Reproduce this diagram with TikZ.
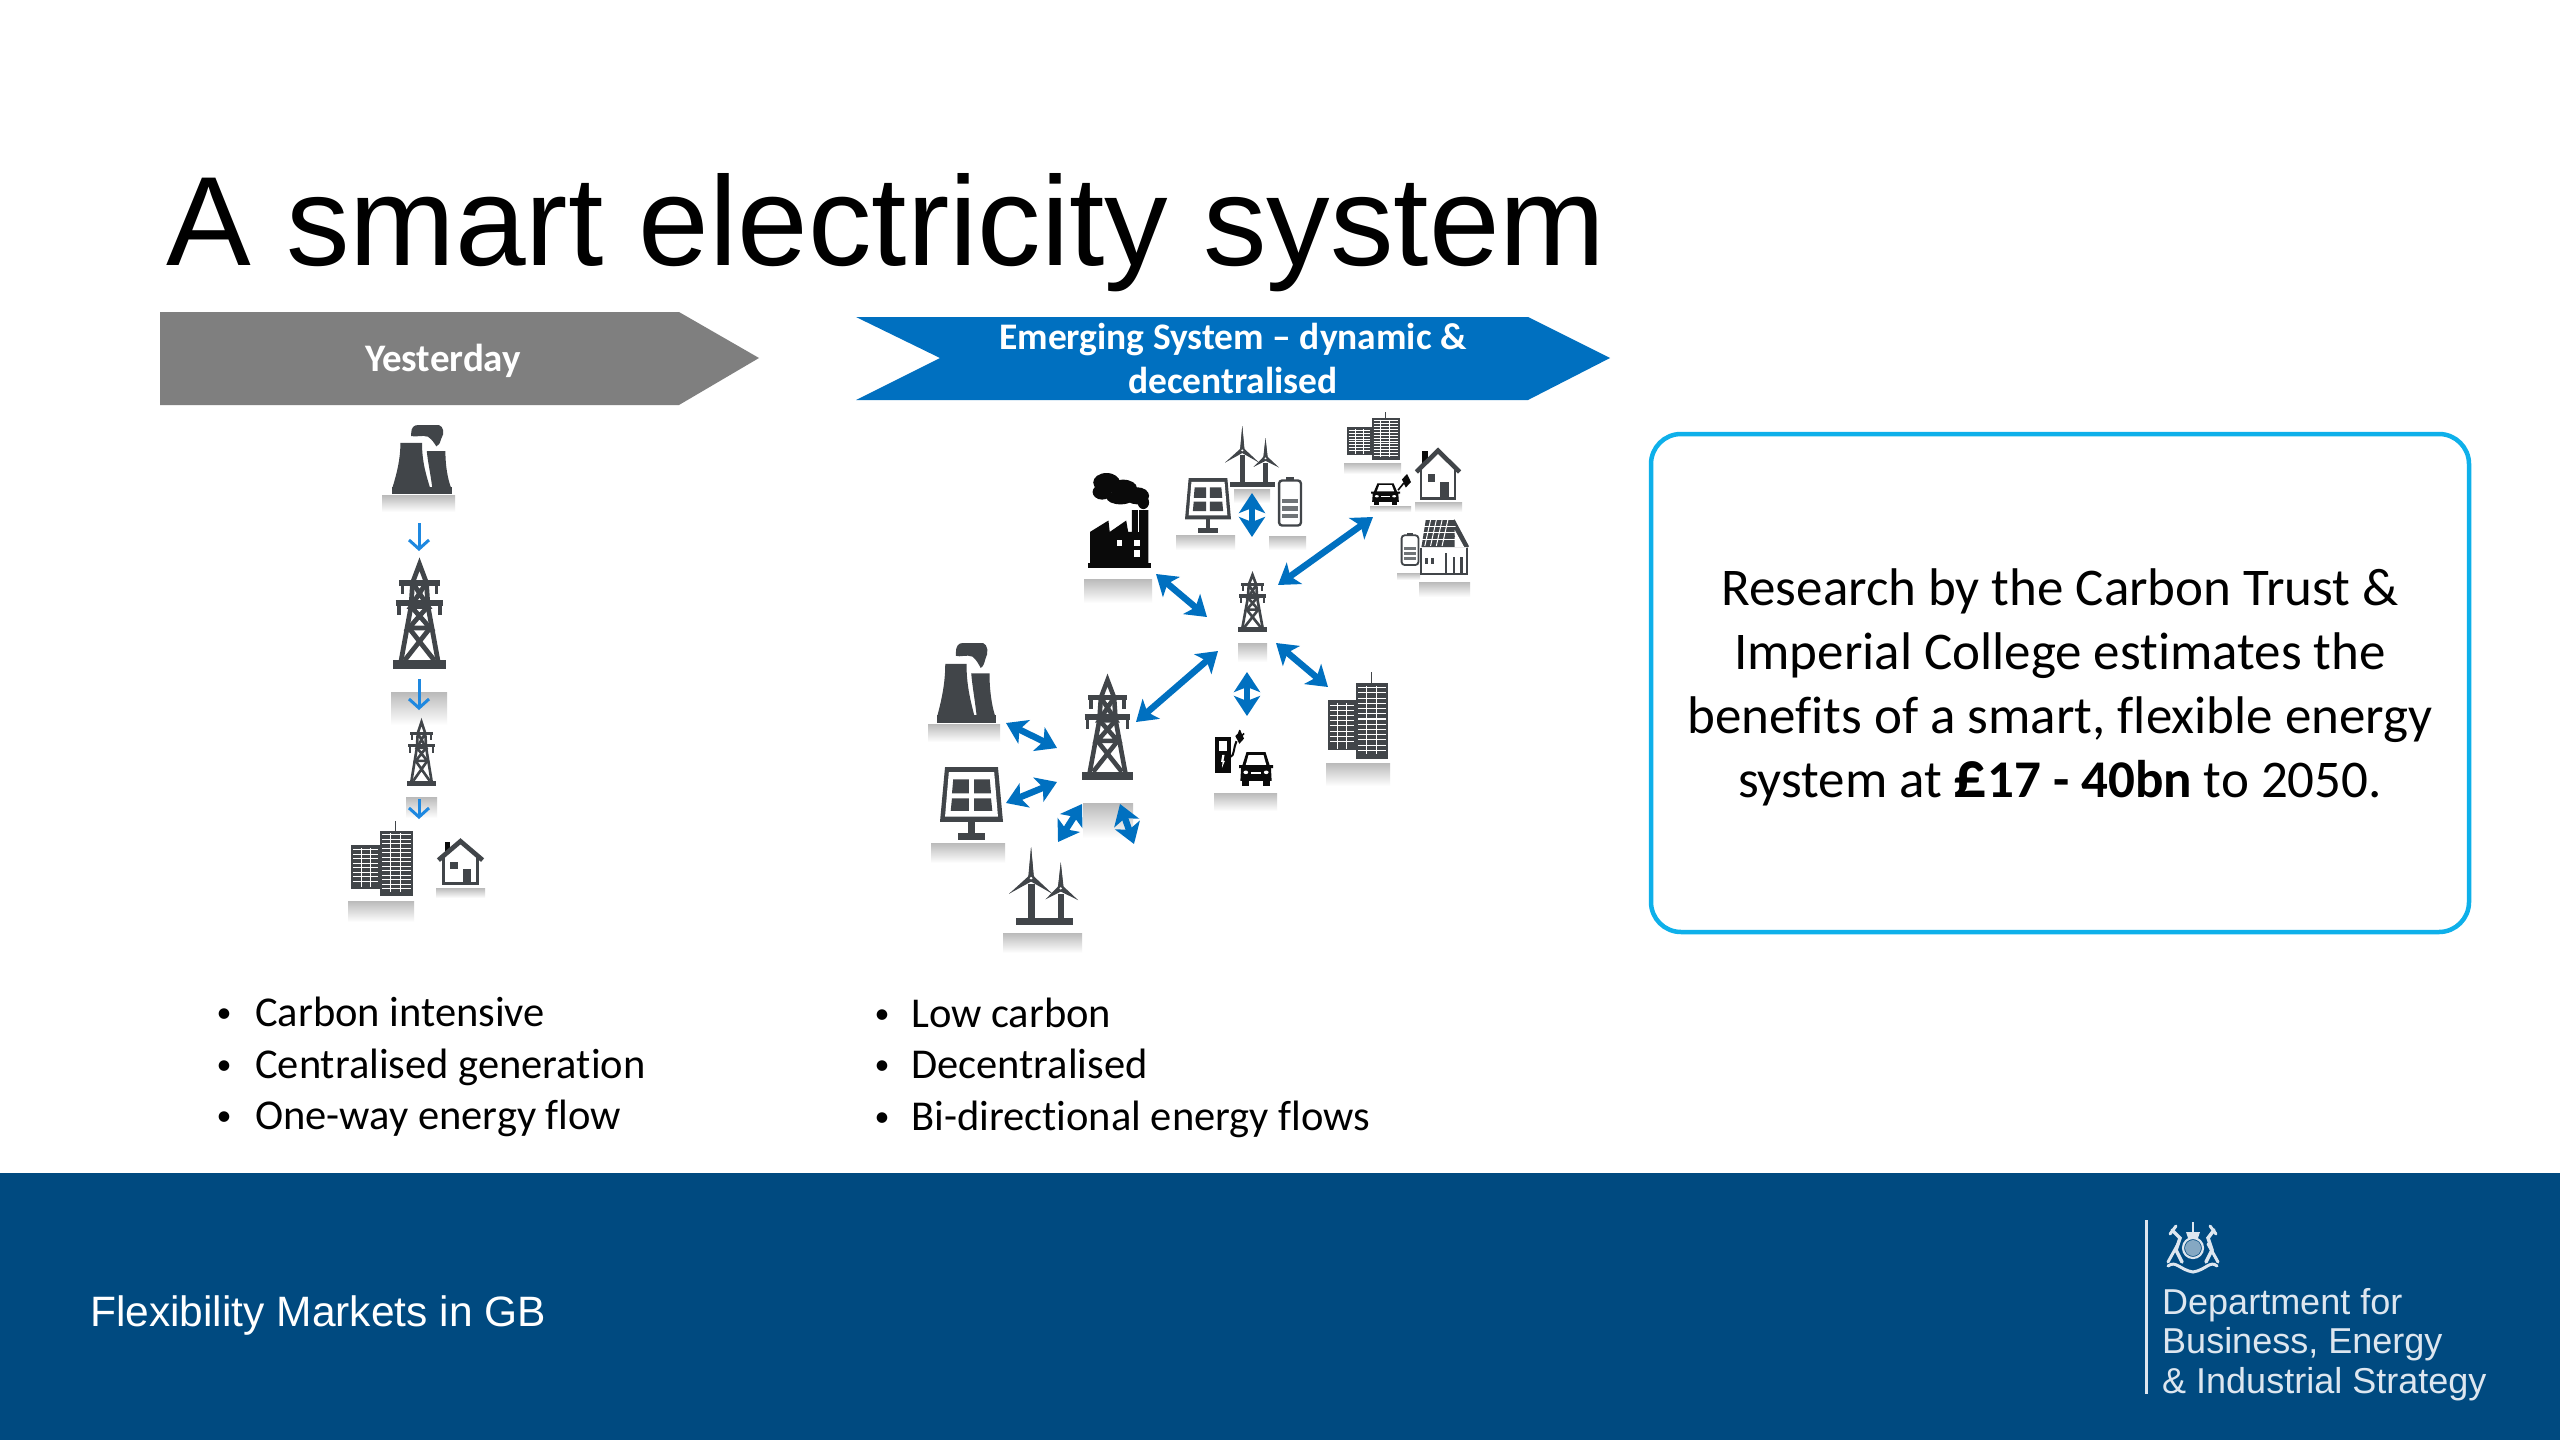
\documentclass[tikz,border=0pt]{standalone}
\usepackage{fontspec}
\setmainfont{Carlito}[Ligatures={NoRequired,NoCommon,NoContextual}]
\newfontfamily\arialf{Liberation Sans}
\usetikzlibrary{arrows.meta}
\definecolor{icodark}{HTML}{414549}
\definecolor{icoblack}{HTML}{0A0A0A}
\definecolor{flowblue}{HTML}{0070C0}
\definecolor{thinblue}{HTML}{1E88E0}
\definecolor{footblue}{HTML}{004A80}
\definecolor{boxblue}{HTML}{0EB0EA}
\definecolor{bannergrey}{HTML}{7F7F7F}
\definecolor{logotext}{HTML}{DDE6EF}
\tikzset{
  x=1pt,y=-1pt,
  shadowbar/.style={top color=black!27,bottom color=white,draw=none},
  bidir/.style={draw=flowblue,line width=6.5pt,{Stealth[length=20pt,width=26pt,inset=5pt]}-{Stealth[length=20pt,width=26pt,inset=5pt]}},
  oneway/.style={draw=thinblue,line width=3pt,-{Straight Barb[length=9pt,width=20pt,line width=3pt]}},
  bodytext/.style={font=\fontsize{42.5}{50}\selectfont,text=black,anchor=base west,inner sep=0pt},
  bullettext/.style={font=\fontsize{30}{50}\selectfont,text=black,anchor=base,inner sep=0pt},
  bannertext/.style={font=\fontsize{37.5}{44}\selectfont\bfseries,text=white,align=center,inner sep=0pt},
  logoline/.style={font=\arialf\fontsize{36}{40}\selectfont,text=logotext,anchor=base west,inner sep=0pt},
}
\newcommand{\ico}[5]{%
  \pgfmathsetmacro\icx{(#4-#2)/100}\pgfmathsetmacro\icy{(#5-#3)/100}%
  \begin{scope}[shift={(#2,#3)},xscale=\icx,yscale=\icy]\csname ic#1\endcsname\end{scope}}
\newcommand{\shadowat}[4]{\fill[shadowbar] (#1,#2) rectangle (#3,#4);}
\newcommand{\icTower}{%
  \fill[icodark] (0,92) rectangle (100,100);
  \begin{scope}[draw=icodark,line width=\icx*9pt,line join=miter]
    \draw (15,93)--(34,42)--(37,20)--(50,3)--(63,20)--(66,42)--(85,93);
    \draw (37,20)--(66,42)--(34,42)--(63,20);
    \draw (34,42)--(70,62)--(30,62)--(66,42);
    \draw (30,62)--(78,92)  (70,62)--(22,92);
    \draw[line width=\icx*11pt] (12,20)--(88,20) (5,39)--(95,39);
    \draw[line width=\icx*7pt] (18,20)--(18,31) (82,20)--(82,31) (11,39)--(11,50) (89,39)--(89,50);
  \end{scope}}
\newcommand{\icCooling}{%
  \fill[icodark] (14,26)--(50,26) .. controls (50,55) and (58,75) .. (63,90)--(1,90) .. controls (8,70) and (14,50) .. (14,26)--cycle;
  \fill[icodark] (58,38)--(89,38) .. controls (89,60) and (93,78) .. (98,90)--(67,90) .. controls (64,70) and (60,55) .. (58,38)--cycle;
  \fill[icodark] (0,90) rectangle (100,100);
  \fill[icodark] (32,12) .. controls (32,4) and (36,0) .. (44,0) -- (78,0) .. controls (86,2) and (88,12) .. (82,20) .. controls (80,26) and (78,30) .. (74,31) .. controls (70,26) and (68,22) .. (60,17) .. controls (50,14) and (40,18) .. (32,16)--cycle;}
\newcommand{\icBuilding}{%
  \fill[icodark] (0,32) rectangle (47,90);
  \fill[icodark] (47,13) rectangle (100,100);
  \fill[icodark] (71,0) rectangle (73,13);
  \foreach \yy in {18,24,...,90}{\draw[white,line width=\icy*1.2pt] (50,\yy)--(97,\yy);}
  \foreach \yy in {38,44,...,84}{\draw[white,line width=\icy*1.2pt] (3,\yy)--(44,\yy);}
  \foreach \xx in {16,31}{\draw[white,line width=.6pt] (\xx,36)--(\xx,88);}
  \foreach \xx in {63,80}{\draw[white,line width=.6pt] (\xx,16)--(\xx,94);}
}
\newcommand{\icHouse}{%
  \fill[icoblack] (16,8) rectangle (28,30);
  \draw[icodark,line width=\icx*10pt,line join=miter] (3,47)--(50,7)--(97,47);
  \draw[icodark,line width=\icx*6pt] (13,38)--(13,97)--(87,97)--(87,38);
  \fill[icodark] (28,50) rectangle (44,66);
  \fill[icodark] (55,66) rectangle (73,97);}
\newcommand{\icSolar}{%
  \fill[icodark] (8,0)--(92,0)--(100,75)--(0,75)--cycle;
  \fill[white] (14,7)--(86,7)--(92,68)--(8,68)--cycle;
  \fill[icodark] (21,17)--(46,17)--(46,36)--(19,36)--cycle;
  \fill[icodark] (54,17)--(79,17)--(81,36)--(54,36)--cycle;
  \fill[icodark] (19,43)--(46,43)--(46,60)--(17,60)--cycle;
  \fill[icodark] (54,43)--(81,43)--(83,60)--(54,60)--cycle;
  \fill[icodark] (45,75) rectangle (55,92);
  \fill[icodark] (28,91) rectangle (72,100);}
\newcommand{\blade}[4]{\fill[icodark] ({#1-4},{#2-2.4})--(#3,#4)--({#1+4},{#2+2.4})--cycle; \fill[icodark] ({#1+4},{#2-2.4})--(#3,#4)--({#1-4},{#2+2.4})--cycle;}
\newcommand{\icTurbine}{%
  \fill[icodark] (10,91) rectangle (93,100);
  \fill[icodark] (27,48) rectangle (37,92);
  \fill[icodark] (71,60) rectangle (80,92);
  \blade{32}{40}{32}{0}\blade{32}{40}{0}{60}\blade{32}{40}{63}{60}
  \blade{75}{53}{75}{20}\blade{75}{53}{53}{67}\blade{75}{53}{100}{68}
  \fill[icodark] (32,40) ellipse (5.5 and 4.2);
  \fill[white] (32,40) ellipse (2.2 and 1.7);
  \fill[icodark] (75,53) ellipse (4.8 and 3.8);
  \fill[white] (75,53) ellipse (2 and 1.5);}
\newcommand{\icBattery}{%
  \fill[icodark] (35,0) rectangle (65,8);
  \draw[icodark,line width=\icx*9pt,rounded corners=3pt] (8,7) rectangle (92,97);
  \fill[icodark!75] (20,43) rectangle (80,52);
  \fill[icodark!75] (20,58) rectangle (80,67);
  \fill[icodark!75] (20,73) rectangle (80,82);}
\newcommand{\icFactory}{%
  \fill[icoblack] (0,95) rectangle (100,100);
  \fill[icoblack] (4,62)--(33,50)--(35,62)--(61,50)--(64,62)--(70,62)--(70,39)--(96,39)--(96,96)--(4,96)--cycle;
  \fill[white] (79,39) rectangle (81,62);
  \fill[white] (46,70) rectangle (55,77);
  \fill[white] (73,70) rectangle (82,77);
  \fill[white] (73,81) rectangle (82,88);
  \fill[icoblack] (30,10) ellipse (21 and 10);
  \fill[icoblack] (56,16) ellipse (22 and 9);
  \fill[icoblack] (78,24) ellipse (19 and 9);
  \fill[icoblack] (23,20) ellipse (15 and 8);
  \fill[icoblack] (52,26) ellipse (22 and 7);
  \fill[icoblack] (88,31) ellipse (9 and 7);}
\newcommand{\icCar}{%
  \fill[icoblack] (22,6)--(78,6)--(90,42)--(100,42)--(100,50)--(94,50)--(96,86)--(4,86)--(6,50)--(0,50)--(0,42)--(10,42)--cycle;
  \fill[white] (28,14)--(72,14)--(80,41)--(20,41)--cycle;
  \fill[white] (20,62) ellipse (7 and 5);
  \fill[white] (80,62) ellipse (7 and 5);
  \fill[white] (36,60) rectangle (64,66);
  \fill[icoblack] (10,86) rectangle (28,100);
  \fill[icoblack] (72,86) rectangle (90,100);}
\newcommand{\icCharger}{%
  \fill[icoblack] (0,16) rectangle (54,100);
  \fill[white] (14,26) rectangle (42,48);
  \fill[white] (25,58)--(33,58)--(29,72)--(34,72)--(24,88)--(26,74)--(21,74)--cycle;
  \fill[icoblack] (70,14)--(88,2)--(100,20)--(84,32)--cycle;
  \draw[icoblack,line width=2pt] (54,62) .. controls (66,62) and (64,40) .. (74,26);
  \draw[icoblack,line width=1.5pt] (82,8)--(86,0) (92,14)--(100,8);}
\newcommand{\icPlug}{%
  \fill[icoblack] (30,30)--(70,0)--(100,45)--(60,75)--cycle;
  \draw[icoblack,line width=1.6pt] (45,50)--(0,90);}
\newcommand{\icSolarHouse}{%
  \fill[icodark] (12,0)--(70,0)--(100,50)--(3,50)--cycle;
  \foreach \xx in {22,34,46,58}{\draw[white,line width=1pt] (\xx,0)--({\xx-12},48);}
  \foreach \yy in {12,24,36}{\draw[white,line width=1pt] (5,\yy)--(76,\yy);}
  \fill[white] (72,18)--(92,50)--(72,50)--cycle;
  \draw[icodark,line width=1.8pt] (2,52)--(2,100)--(98,100)--(98,52);
  \fill[icodark] (10,70) rectangle (17,82);
  \fill[icodark] (23,70) rectangle (30,82);
  \fill[icodark] (52,62) rectangle (57,98);
  \fill[icodark] (68,68) rectangle (73,98);
  \fill[icodark] (84,68) rectangle (89,98);
  \fill[icodark] (70,30) ellipse (3 and 3);
  \draw[icodark,line width=2.4pt] (70,0)--(100,50);}
\begin{document}
\begin{tikzpicture}
\useasboundingbox (0,0) rectangle (2560,1440);
\fill[white] (0,0) rectangle (2560,1440);
\fill[footblue] (0,1173) rectangle (2560,1440);
% title
\node[anchor=base west,inner sep=0pt,font=\arialf\fontsize{127}{140}\selectfont,text=black] (title) at (166,265) {A smart electricity system};
% banners
\fill[bannergrey] (160,312)--(679,312)--(759,358)--(679,405)--(160,405)--cycle;
\fill[flowblue] (856,317)--(1528,317)--(1610,358)--(1528,400)--(856,400)--(940,358)--cycle;
\node[bannertext,font=\fontsize{39}{44}\selectfont\bfseries] (yesterday) at (443,361) {Yesterday};
\node[bannertext] (emerging) at (1233,358) {Emerging System -- dynamic \&\\decentralised};
% callout
\node[draw=boxblue,line width=4.5pt,rounded corners=30pt,minimum width=818pt,minimum height=498pt,inner sep=0pt,text=black] (callout) at (2060,683) {};
\node[align=center,inner sep=0pt,font=\fontsize{53}{64}\selectfont,text=black] (calloutText) at (2060,687)
  {Research by the Carbon Trust \&\\Imperial College estimates the\\benefits of a smart, flexible energy\\system at \textbf{{\fontsize{66}{64}\selectfont£}17 - 40bn} to 2050.};
% shadows left column
\shadowat{382}{495}{455}{512}
\shadowat{391}{692}{447}{725}
\shadowat{406}{797}{437}{818}
\shadowat{348}{901}{414}{922}
\shadowat{436}{888}{485}{898}
% left column icons
\ico{Cooling}{392}{425}{452}{494}
\ico{Tower}{393}{561}{446}{669}
\ico{Tower}{407}{720}{436}{786}
\ico{Building}{351}{821}{413}{896}
\ico{House}{437}{838}{484}{885}
% left arrows
\coordinate (la1s) at (419,523); \coordinate (la1e) at (419,551);
\coordinate (la2s) at (419,679); \coordinate (la2e) at (419,710);
\coordinate (la3s) at (419,799); \coordinate (la3e) at (419,819);
\draw[oneway] (la1s)--(la1e);
\draw[oneway] (la2s)--(la2e);
\draw[oneway] (la3s)--(la3e);
% shadows right
\shadowat{1084}{579}{1152}{603}
\shadowat{1176}{535}{1235}{550}
\shadowat{1234}{489}{1270}{503}
\shadowat{1269}{536}{1306}{550}
\shadowat{1344}{463}{1401}{474}
\shadowat{1415}{502}{1462}{512}
\shadowat{1370}{506}{1411}{512}
\shadowat{1397}{573}{1420}{580}
\shadowat{1419}{582}{1470}{597}
\shadowat{1238}{643}{1267}{662}
\shadowat{928}{724}{1000}{742}
\shadowat{1083}{803}{1133}{838}
\shadowat{931}{843}{1005}{863}
\shadowat{1003}{933}{1082}{953}
\shadowat{1214}{793}{1277}{811}
\shadowat{1326}{763}{1390}{786}
% right icons
\ico{Factory}{1087.5}{473}{1151}{568}
\ico{Solar}{1185}{478}{1231}{533}
\ico{Turbine}{1225}{426}{1279}{487}
\ico{Battery}{1277}{477}{1303}{527}
\ico{Building}{1347}{412}{1400}{460}
\ico{House}{1415}{447}{1461}{500}
\ico{Car}{1371}{482}{1400}{505}
\ico{Plug}{1398}{474}{1411}{492}
\ico{Battery}{1400}{533}{1420}{566}
\ico{SolarHouse}{1420}{520}{1468}{574}
\ico{Tower}{1238}{573}{1267}{632}
\ico{Cooling}{937}{643}{996}{723}
\ico{Tower}{1082}{677}{1133}{780}
\ico{Solar}{940}{767}{1003}{840}
\ico{Turbine}{1009}{847}{1078}{925}
\ico{Charger}{1215}{730}{1244}{773}
\ico{Car}{1239}{750}{1273}{786}
\ico{Building}{1328}{672}{1388}{759}
% right arrows
\coordinate (f1) at (1156,574); \coordinate (f2) at (1207,617);
\coordinate (h1) at (1373,517); \coordinate (h2) at (1278,585);
\coordinate (b1) at (1276,643); \coordinate (b2) at (1328,687);
\coordinate (m1) at (1218,651); \coordinate (m2) at (1136,722);
\coordinate (r1) at (1252,493); \coordinate (r2) at (1252,537);
\coordinate (c1) at (1247,672); \coordinate (c2) at (1247,716);
\coordinate (k1) at (1006,723); \coordinate (k2) at (1057,748);
\coordinate (s1) at (1006,803); \coordinate (s2) at (1057,782);
\coordinate (t1) at (1082,804); \coordinate (t2) at (1058,842);
\coordinate (u1) at (1120,804); \coordinate (u2) at (1134,844);
\foreach \pa/\pb in {f1/f2,h1/h2,b1/b2,m1/m2,r1/r2,c1/c2,k1/k2,s1/s2,t1/t2,u1/u2}{\draw[bidir] (\pa)--(\pb);}
% bullets
\node[bullettext] (bl1) at (224,1022) {•};
\node[bullettext] (bl2) at (224,1074) {•};
\node[bullettext] (bl3) at (224,1125) {•};
\node[bodytext] (tl1) at (255,1026) {Carbon intensive};
\node[bodytext] (tl2) at (255,1078) {Centralised generation};
\node[bodytext] (tl3) at (255,1129) {One-way energy flow};
\node[bullettext] (br1) at (882,1023) {•};
\node[bullettext] (br2) at (882,1074) {•};
\node[bullettext] (br3) at (882,1126) {•};
\node[bodytext] (tr1) at (911,1027) {Low carbon};
\node[bodytext] (tr2) at (911,1078) {Decentralised};
\node[bodytext] (tr3) at (911,1130) {Bi-directional energy flows};
% footer
\node[anchor=base west,inner sep=0pt,font=\arialf\fontsize{42.5}{50}\selectfont,text=white] (footer) at (90,1326) {Flexibility Markets in GB};
\draw[logotext,line width=3pt] (2146,1220)--(2146,1394);
% crest
\begin{scope}[logotext]
  \draw[line width=2.2pt] (2193,1248) circle (10);
  \fill[logotext!60!footblue] (2193,1248) circle (8);
  \fill (2186,1232)--(2200,1232)--(2198,1238)--(2188,1238)--cycle;
  \fill (2192,1222) rectangle (2194,1232);
  \draw[line width=3.5pt,line cap=round] (2172,1230)--(2180,1238)--(2176,1250)--(2182,1262);
  \draw[line width=3pt,line cap=round] (2170,1234)--(2176,1226) (2178,1244)--(2168,1262);
  \draw[line width=3.5pt,line cap=round] (2214,1230)--(2208,1238)--(2212,1250)--(2206,1262);
  \draw[line width=3pt,line cap=round] (2216,1234)--(2210,1226) (2208,1244)--(2218,1262);
  \draw[line width=3pt,line cap=round] (2168,1266) .. controls (2176,1260) and (2180,1270) .. (2193,1272) .. controls (2206,1270) and (2210,1260) .. (2217,1266);
\end{scope}
\node[logoline] (lg1) at (2162,1314) {Department for};
\node[logoline] (lg2) at (2162,1353) {Business, Energy};
\node[logoline] (lg3) at (2162,1393) {\& Industrial Strategy};
\end{tikzpicture}
\end{document}
